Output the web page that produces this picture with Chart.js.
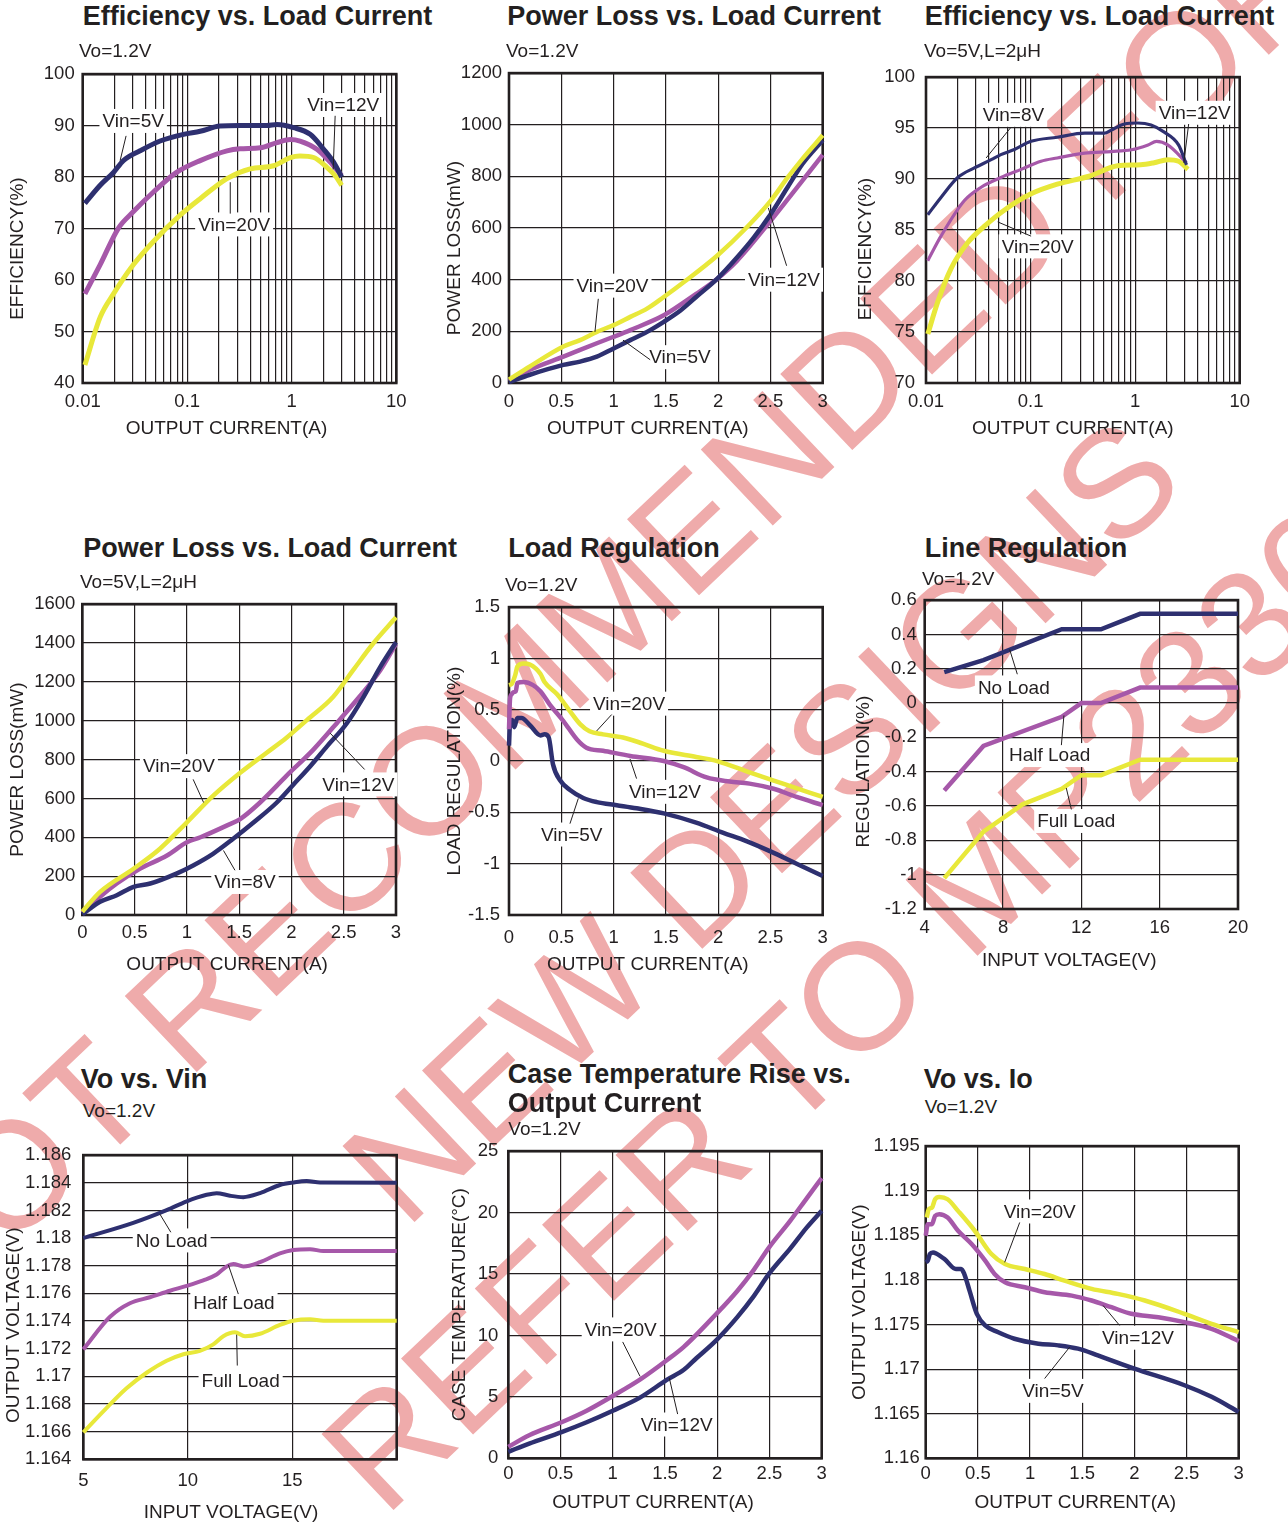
<!DOCTYPE html>
<html>
<head>
<meta charset="utf-8">
<script src="https://cdn.jsdelivr.net/npm/chart.js@4.4.0/dist/chart.umd.min.js"></script>
<style>
body{margin:0;background:#fff;width:1288px;height:1526px;position:relative;overflow:hidden;font-family:"Liberation Sans",Arial,sans-serif;color:#231f20}
.wm{position:absolute;font-size:152px;line-height:152px;color:#efabab;white-space:nowrap;transform-origin:0 50%;z-index:0}
.hd{position:absolute;white-space:nowrap;line-height:1;z-index:2}
canvas{position:absolute;z-index:1}
</style>
</head>
<body>
<script>
// ---- data ----

// Efficiency, Vo=1.2V (log x)
const ioA5 = [0.0105,0.0147,0.0197,0.0245,0.0354,0.055,0.092,0.133,0.206,0.32,0.578,0.72,1.04,1.5,2.02,2.51,3.0];
const effA5 = [74.9,78.4,80.9,83.2,85.1,87.0,88.3,88.9,89.9,90.0,90.0,90.2,89.6,88.3,85.4,82.9,80.0];
const ioA12 = [0.0105,0.0147,0.022,0.0306,0.0475,0.079,0.133,0.24,0.32,0.5,0.72,0.97,1.2,1.74,2.33,3.0];
const effA12 = [57.3,63.0,70.1,73.3,77.1,80.9,83.2,85.1,85.5,85.7,86.7,87.3,87.0,85.4,82.9,80.3];
const ioA20 = [0.0105,0.0147,0.0197,0.0306,0.0475,0.0855,0.133,0.24,0.4,0.67,0.97,1.2,1.62,2.17,2.6,3.0];
const effA20 = [43.5,52.8,57.3,63.0,67.5,72.6,75.8,79.7,81.6,82.2,83.8,84.1,83.8,81.9,80.3,78.4];

// Power loss, Vo=1.2V
const lossIoA5 = [0,0.2,0.52,0.68,0.84,1.0,1.16,1.32,1.48,1.64,1.79,1.99,2.18,2.34,2.5,2.66,2.81,3.0];
const lossA5 = [3,32,70,83,102,134,166,198,237,281,333,403,486,563,652,755,850,940];
const lossIoA12 = [0,0.2,0.52,0.84,1.0,1.16,1.48,1.79,1.99,2.18,2.5,2.75,3.0];
const lossA12 = [6,51,102,154,179,205,262,345,403,473,627,755,883];
const lossIoA20 = [0,0.2,0.52,0.68,0.84,1.0,1.16,1.32,1.48,1.67,1.99,2.27,2.5,2.66,2.81,3.0];
const lossA20 = [13,64,141,166,198,224,256,288,333,390,493,601,704,793,870,959];

// Efficiency, Vo=5V (log x)
const ioB8 = [0.0104,0.0139,0.0201,0.029,0.042,0.052,0.07,0.101,0.18,0.33,0.51,0.59,0.79,1.06,1.42,1.9,2.6,3.1];
const effB8 = [86.5,88.2,90.15,91.1,91.9,92.4,92.9,93.7,94.1,94.5,94.5,94.8,95.4,95.5,95.3,94.6,93.35,91.4];
const ioB12 = [0.0104,0.0139,0.0233,0.0337,0.052,0.081,0.126,0.18,0.33,0.59,0.92,1.33,1.6,2.05,3.1];
const effB12 = [82.0,84.4,87.9,89.2,90.15,90.95,91.75,92.07,92.55,92.7,92.87,93.35,93.7,93.35,91.6];
const ioB20 = [0.0104,0.013,0.0173,0.025,0.036,0.056,0.101,0.18,0.37,0.68,1.13,1.52,2.05,2.6,3.2];
const effB20 = [74.8,78.0,81.2,83.75,85.35,86.95,88.55,89.5,90.3,91.3,91.4,91.6,91.9,91.75,90.95];

// Power loss, Vo=5V
const lossIoB8 = [0,0.17,0.33,0.49,0.65,0.9,1.06,1.25,1.44,1.64,1.86,2.02,2.18,2.34,2.53,2.69,2.85,3.0];
const lossB8 = [3,68,102,145,162,213,255,315,391,477,579,672,766,868,987,1123,1277,1404];
const lossIoB12 = [0,0.17,0.33,0.55,0.81,1.0,1.13,1.38,1.51,1.7,1.95,2.21,2.46,2.65,2.85,3.0];
const lossB12 = [9,94,162,238,306,374,400,460,494,579,715,851,1004,1123,1260,1396];
const lossIoB20 = [0,0.17,0.49,0.74,1.0,1.25,1.51,1.76,1.95,2.15,2.4,2.59,2.78,3.0];
const lossB20 = [17,119,238,340,477,613,732,834,911,1004,1123,1260,1396,1532];

// Load regulation
const regIo5 = [0,0.01,0.03,0.05,0.08,0.12,0.2,0.3,0.34,0.38,0.42,0.49,0.58,0.71,0.84,1.03,1.22,1.48,1.79,2.05,2.27,2.5,2.75,3.0];
const reg5 = [0.15,0.37,0.4,0.33,0.42,0.42,0.35,0.25,0.26,0.23,-0.03,-0.19,-0.28,-0.36,-0.4,-0.43,-0.46,-0.51,-0.6,-0.7,-0.78,-0.88,-1.0,-1.12];
const regIo12 = [0,0.01,0.025,0.04,0.065,0.08,0.14,0.23,0.3,0.39,0.52,0.65,0.74,0.9,1.16,1.48,1.67,1.89,2.11,2.3,2.53,2.75,3.0];
const reg12 = [0.31,0.61,0.65,0.67,0.68,0.76,0.77,0.74,0.68,0.55,0.39,0.21,0.13,0.1,0.05,0,-0.06,-0.16,-0.2,-0.22,-0.27,-0.35,-0.43];
const regIo20 = [0,0.025,0.06,0.08,0.14,0.2,0.3,0.34,0.46,0.58,0.68,0.77,0.9,1.09,1.28,1.48,1.79,1.99,2.3,2.62,3.0];
const reg20 = [0.74,0.75,0.84,0.92,0.95,0.94,0.85,0.77,0.65,0.49,0.36,0.29,0.26,0.23,0.17,0.1,0.04,0,-0.11,-0.22,-0.35];

// Line regulation
const vinNo = [5,7,11,13,15,20];
const lineNo = [0.18,0.25,0.43,0.43,0.52,0.52];
const vinHalf = [5,7,11,12,13,15,20];
const lineHalf = [-0.51,-0.25,-0.08,0,0,0.09,0.09];
const vinFull = [5,7,9,11,12,13,15,20];
const lineFull = [-1.02,-0.75,-0.59,-0.5,-0.42,-0.42,-0.33,-0.33];

// Vo vs Vin
const vvNoX = [5,7.39,8.99,9.95,10.9,11.38,12.02,12.66,13.46,14.41,15.05,15.69,16.33,20];
const vvNo = [1.18,1.1811,1.18202,1.18266,1.18313,1.18325,1.18306,1.18296,1.18325,1.18384,1.18402,1.18412,1.18402,1.184];
const vvHalfX = [5,6.28,7.23,8.19,9.15,9.95,10.74,11.38,11.86,12.18,12.66,13.46,14.41,15.05,15.85,16.49,20];
const vvHalf = [1.17195,1.17431,1.17529,1.17572,1.17619,1.17654,1.17694,1.17736,1.17795,1.17812,1.17795,1.17826,1.17889,1.17913,1.1792,1.17906,1.17906];
const vvFullX = [5,6.12,7.07,8.03,8.99,9.79,10.58,11.22,11.7,12.26,12.74,13.46,14.41,15.05,15.85,16.49,20];
const vvFull = [1.16595,1.16772,1.16913,1.17026,1.17113,1.1716,1.17184,1.17231,1.1729,1.17318,1.1729,1.17308,1.17372,1.17402,1.17412,1.17402,1.17402];

// Case temperature rise
const tempIo12 = [0,0.2,0.51,0.75,1.0,1.26,1.52,1.68,1.8,1.99,2.19,2.35,2.5,2.7,2.86,3.0];
const temp12 = [0.53,1.2,2.13,2.93,3.87,4.94,6.4,7.2,8.14,9.6,11.47,13.2,15.07,17.08,18.81,20.14];
const tempIo20 = [0,0.2,0.51,0.75,1.0,1.26,1.52,1.68,1.99,2.19,2.35,2.5,2.7,2.86,3.0];
const temp20 = [0.93,1.87,2.93,3.87,5.07,6.4,8.0,9.07,11.74,13.6,15.34,17.2,19.34,21.2,22.8];

// Vo vs Io
const viIo5 = [0,0.02,0.04,0.07,0.1,0.18,0.29,0.34,0.37,0.42,0.49,0.57,0.69,0.85,1.08,1.27,1.46,1.65,2.0,2.48,2.74,3.0];
const vi5 = [1.182,1.18215,1.1829,1.18308,1.18297,1.18234,1.18122,1.18122,1.18066,1.1788,1.1762,1.17489,1.17415,1.1734,1.17285,1.17266,1.17229,1.17154,1.17005,1.16819,1.16689,1.16521];
const viIo12 = [0,0.02,0.06,0.09,0.13,0.21,0.31,0.44,0.57,0.66,0.76,0.95,1.14,1.4,1.59,1.78,1.97,2.23,2.48,2.74,3.0];
const vi12 = [1.18495,1.18625,1.18625,1.18718,1.18737,1.187,1.18551,1.18402,1.18216,1.18067,1.17973,1.17918,1.17862,1.17824,1.17769,1.17694,1.1762,1.17582,1.17527,1.17452,1.17314];
const viIo20 = [0.01,0.03,0.06,0.09,0.13,0.21,0.31,0.47,0.63,0.76,0.95,1.14,1.33,1.59,1.84,2.1,2.48,2.74,3.0];
const vi20 = [1.187,1.18793,1.18811,1.18904,1.1893,1.18904,1.18774,1.18551,1.1829,1.18178,1.18122,1.18066,1.17992,1.17899,1.17843,1.17769,1.1762,1.17508,1.17415];

// tick values
const logMajor = [0.01,0.1,1,10];
const logGrid = [];
[0.01,0.1,1].forEach(d => { for (let k = 1; k <= 9; k++) logGrid.push(Number((k * d).toPrecision(3))); });
logGrid.push(10);
const logLabels = logGrid.map(v => logMajor.includes(v) ? String(v) : '');
const ampTicks = [0,0.5,1,1.5,2,2.5,3];
const effTicksA = [40,50,60,70,80,90,100];
const effTicksB = [70,75,80,85,90,95,100];
const lossTicksA = [0,200,400,600,800,1000,1200];
const lossTicksB = [0,200,400,600,800,1000,1200,1400,1600];
const regTicks = [-1.5,-1,-0.5,0,0.5,1,1.5];
const vinTicksA = [4,8,12,16,20];
const lineTicks = [-1.2,-1,-0.8,-0.6,-0.4,-0.2,0,0.2,0.4,0.6];
const vinTicksB = [5,10,15,20];
const vinLabelsB = ['5','10','15',''];
const voTicksA = [1.164,1.166,1.168,1.17,1.172,1.174,1.176,1.178,1.18,1.182,1.184,1.186];
const tempTicks = [0,5,10,15,20,25];
const voTicksB = [1.16,1.165,1.17,1.175,1.18,1.185,1.19,1.195];

// ---- drawing ----
const FONT = '"Liberation Sans", Arial, sans-serif';
const INK = '#231f20';
const NAVY = '#2e3070', PURPLE = '#a658a9', YELLOW = '#e8e83a';

// watermark (behind charts)
[['NOT RECOMMENDED FOR', -110, 1290], ['NEW DESIGNS', 369, 1192], ['REFER TO MP2330', 348, 1480]].forEach(w => {
  const d = document.createElement('div');
  d.className = 'wm';
  d.textContent = w[0];
  d.style.left = w[1] + 'px';
  d.style.top = (w[2] - 76) + 'px';
  d.style.transform = 'rotate(-43.5deg)';
  document.body.appendChild(d);
});

// headings
function head(text, x, base, size, bold) {
  const d = document.createElement('div');
  d.className = 'hd';
  d.textContent = text;
  d.style.left = x + 'px';
  d.style.top = (base - 0.8465 * size) + 'px';
  d.style.fontSize = size + 'px';
  if (bold) d.style.fontWeight = 'bold';
  document.body.appendChild(d);
}

const extras = {};

const framePlugin = {
  id: 'frame',
  beforeDatasetsDraw(chart) {
    const a = chart.chartArea, ctx = chart.ctx;
    ctx.save();
    ctx.strokeStyle = INK;
    ctx.lineWidth = 2.6;
    ctx.strokeRect(a.left, a.top, a.right - a.left, a.bottom - a.top);
    ctx.restore();
  }
};

const notePlugin = {
  id: 'notes',
  afterDatasetsDraw(chart) {
    const ex = extras[chart.canvas.id];
    const ctx = chart.ctx, sx = chart.scales.x, sy = chart.scales.y, a = chart.chartArea;
    ctx.save();
    ctx.font = '19px ' + FONT;
    ctx.textAlign = 'center';
    ctx.textBaseline = 'middle';
    ex.tags.forEach(t => {
      const px = sx.getPixelForValue(t.x), py = sy.getPixelForValue(t.y);
      const w = ctx.measureText(t.text).width;
      ctx.fillStyle = '#fff';
      ctx.fillRect(px - w / 2 - 3, py - 12, w + 6, 24);
      ctx.strokeStyle = INK;
      ctx.lineWidth = 1;
      ctx.beginPath();
      ctx.moveTo(sx.getPixelForValue(t.line[0]), sy.getPixelForValue(t.line[1]));
      ctx.lineTo(sx.getPixelForValue(t.line[2]), sy.getPixelForValue(t.line[3]));
      ctx.stroke();
      ctx.fillStyle = INK;
      ctx.fillText(t.text, px, py + 1);
    });
    // axis titles
    ctx.fillStyle = INK;
    ctx.fillText(ex.xTitle, (a.left + a.right) / 2 + ex.xDx, ex.xY);
    ctx.translate(ex.yX, (a.top + a.bottom) / 2 + ex.yDy);
    ctx.rotate(-Math.PI / 2);
    ctx.fillText(ex.yTitle, 0, 0);
    ctx.restore();
  }
};

function axis(a, which, size, gap) {
  return {
    type: a.log ? 'logarithmic' : 'linear',
    min: a.ticks[0],
    max: a.ticks[a.ticks.length - 1],
    afterBuildTicks: s => { s.ticks = a.ticks.map(v => ({ value: v })); },
    afterFit: s => { if (which === 'x') s.height = size; else s.width = size; },
    grid: { color: INK, lineWidth: 1.2, drawTicks: false },
    border: { display: false },
    ticks: {
      autoSkip: false, maxRotation: 0, padding: gap, color: INK,
      font: { family: FONT, size: 18.5 },
      callback: (v, i) => a.labels ? a.labels[i] : String(v)
    },
    title: { display: false }
  };
}

function panel(p) {
  const [L, T, R, B] = p.box;
  const cl = Math.round(p.yTitleX - 12);
  const ct = Math.round(T - 16);
  const cw = Math.round(R + 30 - cl);
  const ch = Math.round(p.xTitleY + 12 - ct);
  const cv = document.createElement('canvas');
  cv.id = p.id;
  cv.width = cw;
  cv.height = ch;
  cv.style.left = cl + 'px';
  cv.style.top = ct + 'px';
  document.body.appendChild(cv);
  extras[p.id] = {
    tags: p.tags, xTitle: p.xTitle, yTitle: p.yTitle,
    xY: p.xTitleY - ct, xDx: p.xDx, yX: p.yTitleX - cl, yDy: p.yDy
  };
  new Chart(cv.getContext('2d'), {
    type: 'line',
    data: {
      datasets: p.series.map(s => ({
        data: s.xs.map((x, i) => ({ x: x, y: s.ys[i] })),
        borderColor: s.color,
        borderWidth: s.width,
        pointRadius: 0,
        tension: p.straight ? 0 : 0.4,
        cubicInterpolationMode: p.straight ? 'default' : 'monotone',
        fill: false,
        clip: 8
      }))
    },
    options: {
      responsive: false,
      animation: false,
      devicePixelRatio: 1,
      layout: { padding: { left: 0, top: T - ct, right: cl + cw - R, bottom: 0 } },
      plugins: { legend: { display: false }, tooltip: { enabled: false } },
      scales: {
        x: axis(p.x, 'x', ct + ch - B, p.xGap),
        y: axis(p.y, 'y', L - cl, p.yGap)
      }
    },
    plugins: [framePlugin, notePlugin]
  });
}

// row 1
head('Efficiency vs. Load Current', 82.7, 26, 27, true);
head('Vo=1.2V', 79, 57.3, 19);
panel({
  id: 'effA', box: [82.7, 70.7, 396.3, 383], yTitleX: 18, xTitleY: 428.5, xDx: -13, yDy: 20, xGap: 8, yGap: 8,
  x: { log: true, ticks: logGrid, labels: logLabels }, y: { ticks: effTicksA },
  xTitle: 'OUTPUT CURRENT(A)', yTitle: 'EFFICIENCY(%)',
  series: [
    { xs: ioA5, ys: effA5, color: NAVY, width: 5 },
    { xs: ioA12, ys: effA12, color: PURPLE, width: 5 },
    { xs: ioA20, ys: effA20, color: YELLOW, width: 5 }
  ],
  tags: [
    { text: 'Vin=5V', x: 0.0304, y: 90.9, line: [0.026, 88.0, 0.0228, 83.2] },
    { text: 'Vin=12V', x: 3.11, y: 94.0, line: [2.6, 91.9, 2.49, 81.5] },
    { text: 'Vin=20V', x: 0.281, y: 70.8, line: [0.258, 79.0, 0.258, 72.9] }
  ]
});

head('Power Loss vs. Load Current', 507.3, 26, 27, true);
head('Vo=1.2V', 506, 57.3, 19);
panel({
  id: 'lossA', box: [509, 70.7, 822.7, 383], yTitleX: 455, xTitleY: 428.5, xDx: -18, yDy: 20, xGap: 8, yGap: 7,
  x: { ticks: ampTicks }, y: { ticks: lossTicksA },
  xTitle: 'OUTPUT CURRENT(A)', yTitle: 'POWER LOSS(mW)',
  series: [
    { xs: lossIoA20, ys: lossA20, color: YELLOW, width: 4.5 },
    { xs: lossIoA5, ys: lossA5, color: NAVY, width: 4.5 },
    { xs: lossIoA12, ys: lossA12, color: PURPLE, width: 4.5 }
  ],
  tags: [
    { text: 'Vin=20V', x: 0.99, y: 377, line: [0.854, 326, 0.822, 198] },
    { text: 'Vin=12V', x: 2.63, y: 400, line: [2.655, 454, 2.48, 678] },
    { text: 'Vin=5V', x: 1.635, y: 100, line: [1.35, 90, 1.09, 166] }
  ]
});

head('Efficiency vs. Load Current', 924.7, 26, 27, true);
head('Vo=5V,L=2μH', 924, 57.3, 19);
panel({
  id: 'effB', box: [926, 70.7, 1239.7, 383], yTitleX: 866, xTitleY: 428.5, xDx: -10, yDy: 19, xGap: 8, yGap: 11,
  x: { log: true, ticks: logGrid, labels: logLabels }, y: { ticks: effTicksB },
  xTitle: 'OUTPUT CURRENT(A)', yTitle: 'EFFICIENCY(%)',
  series: [
    { xs: ioB8, ys: effB8, color: NAVY, width: 3.2 },
    { xs: ioB12, ys: effB12, color: PURPLE, width: 3.2 },
    { xs: ioB20, ys: effB20, color: YELLOW, width: 5 }
  ],
  tags: [
    { text: 'Vin=8V', x: 0.0686, y: 96.3, line: [0.0652, 95.1, 0.0376, 92.07] },
    { text: 'Vin=12V', x: 3.71, y: 96.5, line: [3.25, 95.4, 2.92, 91.6] },
    { text: 'Vin=20V', x: 0.117, y: 83.4, line: [0.1012, 84.4, 0.0485, 85.8] }
  ]
});

// row 2
head('Power Loss vs. Load Current', 83.3, 558, 27, true);
head('Vo=5V,L=2μH', 80, 588.3, 19);
panel({
  id: 'lossB', box: [82.3, 601.7, 396, 915], yTitleX: 18, xTitleY: 965, xDx: -12, yDy: 10, xGap: 7, yGap: 7,
  x: { ticks: ampTicks }, y: { ticks: lossTicksB },
  xTitle: 'OUTPUT CURRENT(A)', yTitle: 'POWER LOSS(mW)',
  series: [
    { xs: lossIoB20, ys: lossB20, color: YELLOW, width: 4.5 },
    { xs: lossIoB8, ys: lossB8, color: NAVY, width: 4.5 },
    { xs: lossIoB12, ys: lossB12, color: PURPLE, width: 4.5 }
  ],
  tags: [
    { text: 'Vin=20V', x: 0.924, y: 766, line: [1.06, 698, 1.16, 579] },
    { text: 'Vin=12V', x: 2.64, y: 672, line: [2.70, 749, 2.37, 936] },
    { text: 'Vin=8V', x: 1.556, y: 170, line: [1.46, 230, 1.35, 332] }
  ]
});

head('Load Regulation', 508.3, 558, 27, true);
head('Vo=1.2V', 505, 591, 19);
panel({
  id: 'reg', box: [509, 602.7, 822.7, 915], yTitleX: 455, xTitleY: 965, xDx: -18, yDy: 10, xGap: 12, yGap: 9,
  x: { ticks: ampTicks }, y: { ticks: regTicks },
  xTitle: 'OUTPUT CURRENT(A)', yTitle: 'LOAD REGULATION(%)',
  series: [
    { xs: regIo20, ys: reg20, color: YELLOW, width: 4.5 },
    { xs: regIo12, ys: reg12, color: PURPLE, width: 4.5 },
    { xs: regIo5, ys: reg5, color: NAVY, width: 4.5 }
  ],
  tags: [
    { text: 'Vin=20V', x: 1.148, y: 0.559, line: [0.982, 0.453, 0.838, 0.293] },
    { text: 'Vin=12V', x: 1.492, y: -0.30, line: [1.22, -0.171, 1.157, 0.021] },
    { text: 'Vin=5V', x: 0.6, y: -0.716, line: [0.583, -0.61, 0.663, -0.364] }
  ]
});

head('Line Regulation', 924.7, 558, 27, true);
head('Vo=1.2V', 922, 585, 19);
panel({
  id: 'line', box: [924.7, 596.7, 1238, 909], yTitleX: 864, xTitleY: 961, xDx: -12, yDy: 17, xGap: 8, yGap: 8,
  straight: true,
  x: { ticks: vinTicksA }, y: { ticks: lineTicks },
  xTitle: 'INPUT VOLTAGE(V)', yTitle: 'REGULATION(%)',
  series: [
    { xs: vinNo, ys: lineNo, color: NAVY, width: 4.5 },
    { xs: vinHalf, ys: lineHalf, color: PURPLE, width: 4.5 },
    { xs: vinFull, ys: lineFull, color: YELLOW, width: 4.5 }
  ],
  tags: [
    { text: 'No Load', x: 8.55, y: 0.091, line: [8.73, 0.168, 8.34, 0.312] },
    { text: 'Half Load', x: 10.38, y: -0.303, line: [10.98, -0.245, 11.11, -0.072] },
    { text: 'Full Load', x: 11.74, y: -0.687, line: [11.49, -0.62, 11.23, -0.495] }
  ]
});

// row 3
head('Vo vs. Vin', 80.7, 1089, 27, true);
head('Vo=1.2V', 82.7, 1117.3, 19);
panel({
  id: 'vovin', box: [83.3, 1147.7, 396.7, 1459.3], yTitleX: 14, xTitleY: 1513, xDx: -9, yDy: 18, xGap: 11, yGap: 12,
  x: { ticks: vinTicksB, labels: vinLabelsB }, y: { ticks: voTicksA },
  xTitle: 'INPUT VOLTAGE(V)', yTitle: 'OUTPUT VOLTAGE(V)',
  series: [
    { xs: vvNoX, ys: vvNo, color: NAVY, width: 4 },
    { xs: vvHalfX, ys: vvHalf, color: PURPLE, width: 4 },
    { xs: vvFullX, ys: vvFull, color: YELLOW, width: 4 }
  ],
  tags: [
    { text: 'No Load', x: 9.23, y: 1.17983, line: [9.19, 1.18042, 8.67, 1.18172] },
    { text: 'Half Load', x: 12.21, y: 1.17532, line: [12.42, 1.17595, 11.94, 1.17807] },
    { text: 'Full Load', x: 12.53, y: 1.16967, line: [12.37, 1.17078, 12.34, 1.17301] }
  ]
});

head('Case Temperature Rise vs.', 507.7, 1084, 27, true);
head('Output Current', 507.7, 1112.7, 27, true);
head('Vo=1.2V', 508.3, 1135, 19);
panel({
  id: 'temp', box: [508.3, 1146, 821.7, 1458.3], yTitleX: 460, xTitleY: 1503, xDx: -12, yDy: 0, xGap: 5, yGap: 10,
  x: { ticks: ampTicks }, y: { ticks: tempTicks },
  xTitle: 'OUTPUT CURRENT(A)', yTitle: 'CASE TEMPERATURE(°C)',
  series: [
    { xs: tempIo20, ys: temp20, color: PURPLE, width: 4.5 },
    { xs: tempIo12, ys: temp12, color: NAVY, width: 4.5 }
  ],
  tags: [
    { text: 'Vin=20V', x: 1.076, y: 10.49, line: [1.095, 9.47, 1.261, 6.67] },
    { text: 'Vin=12V', x: 1.612, y: 2.75, line: [1.621, 3.6, 1.541, 6.54] }
  ]
});

head('Vo vs. Io', 923.7, 1089, 27, true);
head('Vo=1.2V', 924.7, 1113.3, 19);
panel({
  id: 'voio', box: [925.7, 1145, 1238.7, 1458.3], yTitleX: 860, xTitleY: 1503, xDx: -7, yDy: 0, xGap: 5, yGap: 6,
  x: { ticks: ampTicks }, y: { ticks: voTicksB },
  xTitle: 'OUTPUT CURRENT(A)', yTitle: 'OUTPUT VOLTAGE(V)',
  series: [
    { xs: viIo20, ys: vi20, color: YELLOW, width: 4.5 },
    { xs: viIo12, ys: vi12, color: PURPLE, width: 4.5 },
    { xs: viIo5, ys: vi5, color: NAVY, width: 4.5 }
  ],
  tags: [
    { text: 'Vin=20V', x: 1.093, y: 1.18767, line: [0.901, 1.18644, 0.757, 1.18197] },
    { text: 'Vin=12V', x: 2.035, y: 1.17352, line: [1.859, 1.17489, 1.7, 1.17713] },
    { text: 'Vin=5V', x: 1.22, y: 1.16756, line: [1.14, 1.16894, 1.38, 1.17247] }
  ]
});
</script>
</body>
</html>
